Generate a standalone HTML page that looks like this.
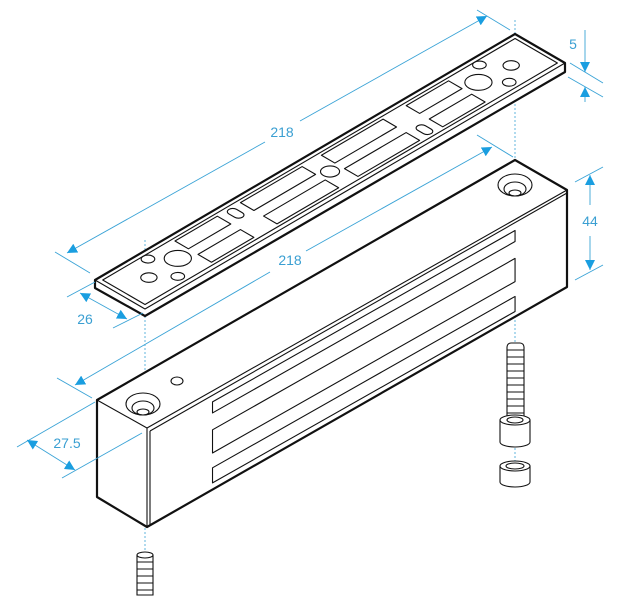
<!DOCTYPE html>
<html><head><meta charset="utf-8"><style>
html,body{margin:0;padding:0;background:#fff;}
svg{display:block;}
text{font-family:"Liberation Sans",sans-serif;fill:#3a9fd2;font-size:14px;}
.k{fill:none;stroke:#111;stroke-width:1.1;vector-effect:non-scaling-stroke;stroke-linejoin:round;}
.K{fill:#fff;stroke:#111;stroke-width:2.2;vector-effect:non-scaling-stroke;stroke-linejoin:round;}
.b{fill:none;stroke:#3aa3d6;stroke-width:0.9;}
.d{fill:none;stroke:#3aa3d6;stroke-width:0.8;stroke-dasharray:2 2;}
</style></head><body>
<svg width="631" height="600" viewBox="0 0 631 600" xmlns="http://www.w3.org/2000/svg">
<defs>
<marker id="a" viewBox="0 0 10 10" refX="10" refY="5" markerWidth="10" markerHeight="10" markerUnits="userSpaceOnUse" orient="auto-start-reverse"><path d="M0,0L10,5L0,10z" fill="#1a9ee0"/></marker>
</defs>

<line class="d" x1="515" y1="20" x2="515" y2="470"/>
<line class="d" x1="145" y1="240" x2="145" y2="592"/>

<!-- BODY -->
<polygon class="K" points="97,400 515,160 567,190 567,287 147,527 97,497"/>
<polygon class="k" points="97,400 515,160 567,190 147,428"/>
<line class="k" x1="150" y1="431" x2="567" y2="193"/>
<line class="k" x1="147" y1="428" x2="147" y2="527"/>
<line class="k" x1="150" y1="431" x2="150" y2="525"/>
<g transform="matrix(1.927,-1.0917,0,2.25,147,428)">
<polygon class="k" points="34,4.9 191,4.9 191,9.8 34,9.8"/>
<polygon class="k" points="34,17.3 191,17.3 191,27.6 34,27.6"/>
<polygon class="k" points="34,34.2 191,34.2 191,40.9 34,40.9"/>
</g>
<ellipse class="k" cx="143" cy="404" rx="17" ry="11"/>
<ellipse class="k" cx="143" cy="408" rx="11" ry="7"/>
<ellipse class="k" cx="143" cy="412" rx="6" ry="3"/>
<ellipse class="k" cx="177" cy="381" rx="6" ry="4"/>
<ellipse class="k" cx="515" cy="185" rx="17" ry="11"/>
<ellipse class="k" cx="515" cy="189" rx="11" ry="7"/>
<ellipse class="k" cx="515" cy="193" rx="6" ry="3"/>

<!-- PLATE -->
<polygon class="K" points="95,280 515,34 565,63 565,72 145,316 95,288"/>
<polygon class="k" points="95,280 515,34 565,63 145,309"/>
<g transform="matrix(1.927,-1.1284,1.923,1.1154,95,280)">
<polygon class="k" points="2,2 216,2 216,24 2,24"/>
<circle class="k" cx="15" cy="13" r="3"/>
<circle class="k" cx="23" cy="4.5" r="2.5"/>
<circle class="k" cx="23" cy="20" r="2.5"/>
<circle class="k" cx="31" cy="12" r="5"/>
<circle class="k" cx="203" cy="13" r="3"/>
<circle class="k" cx="195" cy="4.5" r="2.5"/>
<circle class="k" cx="195" cy="20" r="2.5"/>
<circle class="k" cx="187" cy="12" r="5"/>
<circle class="k" cx="109" cy="13" r="3.5"/>
<rect class="k" x="38" y="3.5" width="22" height="7"/>
<rect class="k" x="38" y="15.5" width="22" height="7"/>
<rect class="k" x="64" y="3.5" width="4" height="7" rx="2"/>
<rect class="k" x="72" y="3.5" width="32" height="7"/>
<rect class="k" x="72" y="15.5" width="32" height="7"/>
<rect class="k" x="114" y="3.5" width="32" height="7"/>
<rect class="k" x="114" y="15.5" width="32" height="7"/>
<rect class="k" x="150" y="15.5" width="4" height="7" rx="2"/>
<rect class="k" x="158" y="3.5" width="22" height="7"/>
<rect class="k" x="158" y="15.5" width="22" height="7"/>
</g>

<!-- right screw -->
<g>
<rect x="507" y="343" width="17" height="78" fill="#fff" stroke="#111" stroke-width="1.1" rx="4"/>
<path class="k" d="M507,350h17M507,357h17M507,364h17M507,371h17M507,378h17M507,385h17M507,392h17M507,399h17M507,406h17M507,413h17"/>
<path d="M500,420 v22 a15,5 0 0 0 30,0 v-22" fill="#fff" stroke="#111" stroke-width="1.1"/>
<ellipse cx="515" cy="420" rx="15" ry="5" fill="#fff" stroke="#111" stroke-width="1.1"/>
<ellipse cx="515" cy="420" rx="8" ry="3" fill="none" stroke="#111" stroke-width="1.1"/>
<path d="M500,466 v16 a15,5 0 0 0 30,0 v-16" fill="#fff" stroke="#111" stroke-width="1.1"/>
<ellipse cx="515" cy="466" rx="15" ry="5" fill="#fff" stroke="#111" stroke-width="1.1"/>
<ellipse cx="515" cy="466" rx="9" ry="3" fill="none" stroke="#111" stroke-width="1.1"/>
</g>
<g>
<path d="M137,555 v40 h16 v-40" fill="#fff" stroke="#111" stroke-width="1.1"/>
<ellipse cx="145" cy="555" rx="8" ry="3" fill="#fff" stroke="#111" stroke-width="1.1"/>
<path class="k" d="M137,562h16M137,569h16M137,576h16M137,583h16M137,590h16"/>
</g>

<!-- dimensions -->
<line class="b" x1="55" y1="252" x2="90" y2="273"/>
<line class="b" x1="477" y1="10" x2="510" y2="30"/>
<line class="b" x1="67" y1="253" x2="265" y2="142" marker-start="url(#a)"/>
<line class="b" x1="300" y1="121" x2="487" y2="16" marker-end="url(#a)"/>
<text x="282" y="137" text-anchor="middle">218</text>

<line class="b" x1="57" y1="378" x2="92" y2="398"/>
<line class="b" x1="477" y1="135" x2="513" y2="157"/>
<line class="b" x1="75" y1="385" x2="270" y2="272" marker-start="url(#a)"/>
<line class="b" x1="306" y1="251" x2="492" y2="147" marker-end="url(#a)"/>
<text x="290" y="265" text-anchor="middle">218</text>

<line class="b" x1="67" y1="297" x2="95" y2="282"/>
<line class="b" x1="113" y1="328" x2="143" y2="313"/>
<line class="b" x1="80" y1="293" x2="127" y2="319" marker-start="url(#a)" marker-end="url(#a)"/>
<text x="85" y="324" text-anchor="middle">26</text>

<line class="b" x1="17" y1="447" x2="95" y2="402"/>
<line class="b" x1="62" y1="478" x2="142" y2="433"/>
<line class="b" x1="27" y1="440" x2="75" y2="470" marker-start="url(#a)" marker-end="url(#a)"/>
<text x="67" y="448" text-anchor="middle">27.5</text>

<line class="b" x1="570" y1="63" x2="603" y2="83"/>
<line class="b" x1="568" y1="77" x2="603" y2="97"/>
<line class="b" x1="585" y1="30" x2="585" y2="72" marker-end="url(#a)"/>
<line class="b" x1="585" y1="102" x2="585" y2="87" marker-end="url(#a)"/>
<text x="573" y="49" text-anchor="middle">5</text>

<line class="b" x1="575" y1="182" x2="603" y2="167"/>
<line class="b" x1="575" y1="280" x2="603" y2="265"/>
<line class="b" x1="590" y1="175" x2="590" y2="205" marker-start="url(#a)"/>
<line class="b" x1="590" y1="236" x2="590" y2="270" marker-end="url(#a)"/>
<text x="590" y="226" text-anchor="middle">44</text>
</svg>
</body></html>
